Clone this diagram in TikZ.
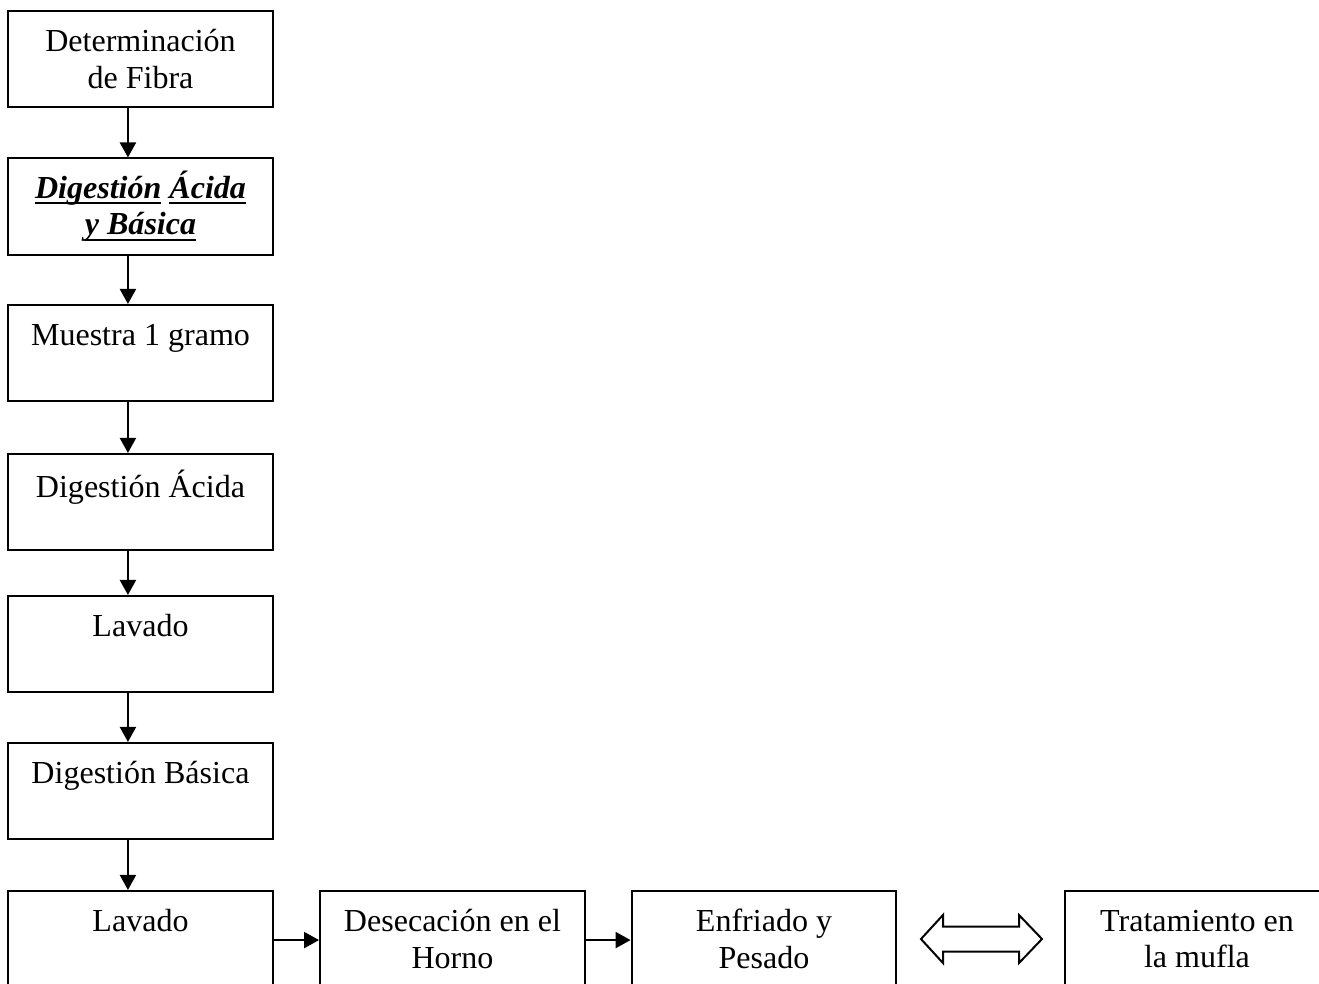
\documentclass[tikz,border=0pt]{standalone}
\usepackage{fontspec}
\setmainfont{Liberation Serif}
\usetikzlibrary{arrows.meta}
% underline at a fixed depth below the baseline
\newcommand\ulword[1]{\setbox0\hbox{#1}\rlap{\rule[-2.1pt]{\wd0}{0.7pt}}\box0\relax}
\begin{document}
\begin{tikzpicture}[x=0.3745pt,y=-0.3745pt,
  stepbox/.style={draw,line width=0.75pt,minimum width=99.2pt,minimum height=36pt,
    inner sep=0pt,align=center,font=\fontsize{12pt}{13.6pt}\selectfont},
  flow/.style={line width=0.75pt,-{Triangle[length=5.6pt,width=6pt]}},
  bigarrow/.style={draw,line width=0.75pt,fill=white,line join=miter}]
\useasboundingbox (0,0) rectangle (1319,984);
\clip (0,0) rectangle (1319,984);

% main column
\node[stepbox] (fibra) at (140.5,59) {Determinación\\de Fibra};
\node[stepbox] (dig)   at (140.5,206.5) {\textbf{\textit{\ulword{Digestión} \ulword{Ácida}}}\\\textbf{\textit{\ulword{y Básica}}}};
\node[stepbox] (muestra) at (140.5,353) {Muestra 1 gramo\\\mbox{}};
\node[stepbox] (acida) at (140.5,502) {Digestión Ácida\\\mbox{}};
\node[stepbox] (lav1)  at (140.5,644) {Lavado\\\mbox{}};
\node[stepbox] (basica) at (140.5,791) {Digestión Básica\\\mbox{}};

% bottom row
\node[stepbox] (lav2)  at (140.5,939) {Lavado\\\mbox{}};
\node[stepbox] (horno) at (452.5,939) {Desecación en el\\Horno};
\node[stepbox] (pesado) at (764,939) {Enfriado y\\Pesado};
\node[stepbox] (mufla) at (1197,939) {Tratamiento en\\la mufla};

% vertical connectors, offset left of the box centres
\foreach \a/\b in {fibra/dig,dig/muestra,muestra/acida,acida/lav1,lav1/basica,basica/lav2}
  \draw[flow] ([xshift=-4.7pt]\a.south) -- ([xshift=-4.7pt]\b.north);

% horizontal connectors
\draw[flow] ([yshift=-0.4pt]lav2.east) -- ([yshift=-0.4pt]horno.west);
\draw[flow] ([yshift=-0.4pt]horno.east) -- ([yshift=-0.4pt]pesado.west);

% two-headed block arrow between cooling and muffle
\path[bigarrow] (921,939) -- (943,915) -- (943,926.5) -- (1019,926.5) -- (1019,915)
  -- (1042,939) -- (1019,963) -- (1019,951.5) -- (943,951.5) -- (943,963) -- cycle;
\end{tikzpicture}
\end{document}
